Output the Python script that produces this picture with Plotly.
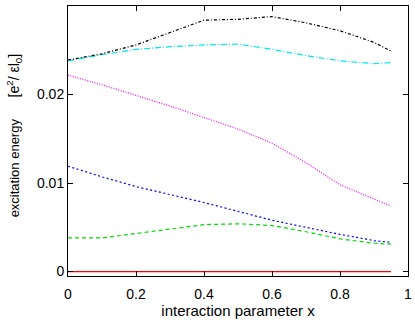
import plotly.graph_objects as go

# interaction parameter values
x_vals = [0, 0.1, 0.2, 0.3, 0.4, 0.5, 0.6, 0.7, 0.8, 0.9, 0.95]

# excitation energies
red_line = [0, 0, 0, 0, 0, 0, 0, 0, 0, 0, 0]
green_line = [0.0038, 0.0038, 0.0043, 0.0048, 0.0053, 0.0054, 0.0052, 0.0045, 0.0037, 0.0032, 0.0031]
blue_line = [0.0119, 0.0107, 0.0096, 0.0087, 0.0078, 0.0068, 0.0058, 0.0050, 0.0042, 0.0035, 0.0033]
magenta_line = [0.0222, 0.0211, 0.0199, 0.0187, 0.0174, 0.0161, 0.0145, 0.0123, 0.0098, 0.0082, 0.0074]
cyan_line = [0.0238, 0.0245, 0.0251, 0.0254, 0.0256, 0.0257, 0.0251, 0.0244, 0.0238, 0.0235, 0.0236]
black_line = [0.0239, 0.0246, 0.0256, 0.0270, 0.0284, 0.0285, 0.0288, 0.0281, 0.0272, 0.0259, 0.0249]

x_ticks = [0, 0.2, 0.4, 0.6, 0.8, 1]
x_tick_text = ['0', '0.2', '0.4', '0.6', '0.8', '1']
y_ticks = [0, 0.01, 0.02, 0.03]
y_tick_text = ['0', '0.01', '0.02', '0.03']

series = [
    (red_line, '#ff0000', 'solid'),
    (green_line, '#00dd00', '4px,3px'),
    (blue_line, '#0000ff', '2px,2.5px'),
    (magenta_line, '#ff00ff', '1px,1.5px'),
    (cyan_line, '#00e5ee', '6px,2px,1px,2px'),
    (black_line, '#000000', '3px,2px,1px,2px'),
]

fig = go.Figure()
for y_vals, color, dash in series:
    fig.add_trace(go.Scatter(
        x=x_vals, y=y_vals, mode='lines',
        line=dict(color=color, width=1.2, dash=dash),
        showlegend=False,
    ))

axis_style = dict(
    showline=True, linecolor='black', linewidth=1, mirror='ticks',
    ticks='inside', ticklen=5, tickcolor='black', tickwidth=1,
    showgrid=False, zeroline=False, automargin=False,
    tickfont=dict(size=14, color='black'),
)

y_title = ('&nbsp;&nbsp;&nbsp;excitation energy&nbsp;&nbsp;&nbsp;&nbsp;&nbsp;&nbsp;'
           '<span style="font-size:14px">[e<sup>2</sup>/ εl<sub>0</sub>]</span>')

fig.update_layout(
    width=415, height=320,
    paper_bgcolor='white', plot_bgcolor='white',
    margin=dict(l=68, r=7, t=6, b=44),
    font=dict(family='Liberation Sans, Arial, sans-serif', size=13, color='black'),
    xaxis=dict(
        range=[0, 1], tickvals=x_ticks, ticktext=x_tick_text, ticklabelstandoff=5,
        title=dict(text='interaction parameter x', standoff=0, font=dict(size=15)),
        **axis_style
    ),
    yaxis=dict(
        range=[-0.0005, 0.03], tickvals=y_ticks, ticktext=y_tick_text,
        title=dict(text=y_title, standoff=14, font=dict(size=13)),
        **axis_style
    ),
)

# page body has a default margin; drop it so the figure sits at the window corner
fig.write_html("out.html", config={'displayModeBar': False},
               post_script="document.body.style.margin='0';")
